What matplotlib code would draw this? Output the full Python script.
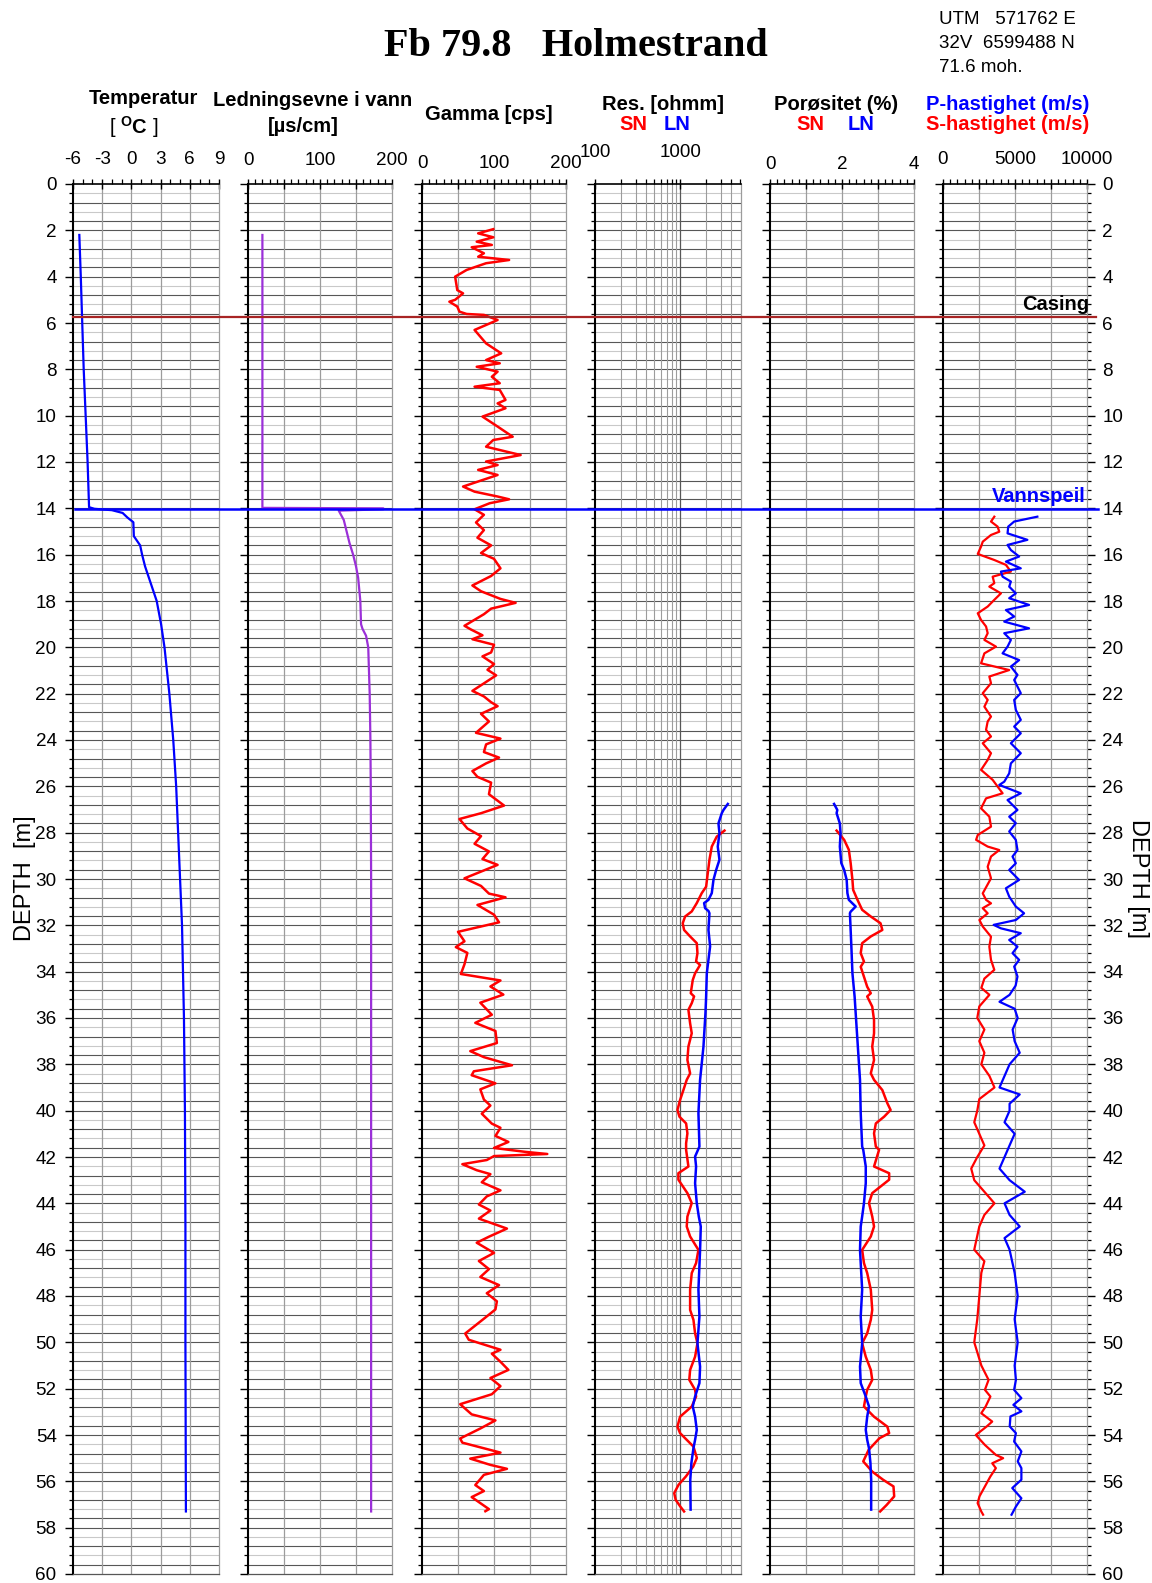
import matplotlib.pyplot as plt
import matplotlib.ticker as ticker
from matplotlib.lines import Line2D
from matplotlib.transforms import blended_transform_factory
import numpy as np

plt.rcParams['font.family'] = ['Liberation Sans', 'DejaVu Sans']
plt.rcParams['mathtext.fontset'] = 'custom'
plt.rcParams['mathtext.rm'] = 'Liberation Sans'
plt.rcParams['mathtext.bf'] = 'Liberation Sans:bold'

# page size and vertical extent of the depth axis, in pixels
W, H = 1152, 1583
Y_TOP, Y_BOT = 184, 1574
DEPTH_MAX = 60

CASING_DEPTH = 5.73
WATER_DEPTH = 14.05

BLUE = '#0000ff'
RED = '#ff0000'
PURPLE = '#9b30d8'
CASING_COLOR = '#a82424'

TICK_SIZE = 13.6
HEAD_SIZE = 14.5

# ---- temperature [C]
temp_depth = [2.2, 4, 6, 8, 10, 12, 13.95, 14.02, 14.08, 14.2, 14.4, 14.6, 15.2, 15.6, 16.0,
              16.5, 17.0, 17.5, 18.0, 19.0, 20.0, 22.0, 24.0, 26.0, 28.0, 30.0, 32.0, 36.0,
              40.0, 45.0, 50.0, 57.3]
temp = [-5.35, -5.2, -5.05, -4.9, -4.7, -4.5, -4.35, -3.8, -2.0, -0.9, -0.4, 0.2, 0.25, 0.9,
        1.1, 1.4, 1.8, 2.2, 2.6, 3.05, 3.4, 3.9, 4.3, 4.6, 4.8, 5.0, 5.2, 5.4, 5.5, 5.55,
        5.55, 5.6]

# ---- conductivity in water [uS/cm]
cond_depth = [2.2, 13.98, 14.0, 14.04, 14.1, 14.5, 15.0, 15.5, 16.0, 16.5, 17.0, 18.0, 19.0,
              19.2, 19.5, 20.0, 21.0, 22.0, 24.0, 26.0, 30.0, 40.0, 57.3]
cond = [20, 20, 188, 188, 126, 133, 137, 141, 146, 150, 153, 156, 157, 159, 164, 167, 168,
        169, 170, 170.5, 171, 171, 171]

# ---- gamma [cps]
gamma_depth = [1.95, 2.13, 2.30, 2.49, 2.63, 2.73, 2.99, 3.14, 3.28, 3.42, 3.71, 4.00, 4.58,
               4.72, 5.00, 5.08, 5.29, 5.51, 5.61, 5.65, 5.87, 6.30, 6.88, 7.31, 7.60, 7.74,
               7.89, 8.10, 8.32, 8.60, 8.75, 8.89, 9.32, 9.47, 9.68, 10.04, 10.47, 10.91,
               11.05, 11.34, 11.70, 11.98, 12.13, 12.34, 12.56, 13.06, 13.28, 13.49, 13.61,
               13.78, 14.04, 14.28, 14.61, 14.94, 15.27, 15.60, 15.93, 16.18, 16.59, 16.92,
               17.33, 17.58, 17.91, 18.08, 18.33, 18.57, 19.07, 19.23, 19.48, 19.65, 19.89,
               20.22, 20.39, 20.72, 20.97, 21.21, 21.88, 22.12, 22.37, 22.54, 22.87, 23.20,
               23.69, 23.94, 24.19, 24.52, 24.76, 25.01, 25.34, 25.59, 25.84, 26.34, 26.83,
               27.16, 27.41, 27.82, 28.15, 28.48, 28.81, 29.14, 29.39, 29.97, 30.30, 30.63,
               30.79, 31.12, 31.54, 31.87, 32.28, 32.69, 32.94, 33.19, 33.68, 34.10, 34.38,
               34.64, 34.99, 35.34, 35.86, 36.21, 36.56, 37.08, 37.43, 37.69, 38.04, 38.30,
               38.47, 38.82, 39.08, 39.52, 39.78, 40.13, 40.56, 40.74, 41.09, 41.35, 41.61,
               41.78, 41.87, 41.96, 42.13, 42.31, 42.57, 42.74, 43.09, 43.44, 43.70, 44.05,
               44.31, 44.66, 45.09, 45.44, 45.70, 46.14, 46.49, 46.84, 47.18, 47.53, 47.88,
               48.23, 48.58, 48.93, 49.62, 49.89, 50.32, 50.49, 50.84, 51.19, 51.54, 51.89,
               52.24, 52.67, 53.11, 53.37, 53.72, 54.15, 54.33, 54.76, 55.02, 55.29, 55.46,
               55.72, 56.16, 56.42, 56.68, 56.94, 57.20, 57.29]
gamma = [99, 78, 99, 76, 97, 69, 86, 78, 121, 89, 62, 46, 49, 57, 46, 38, 49, 52, 62, 86, 105,
         73, 89, 110, 89, 108, 76, 105, 97, 108, 73, 108, 116, 105, 116, 84, 105, 126, 99, 89,
         137, 89, 105, 78, 105, 57, 73, 105, 121, 94, 73, 86, 75, 86, 77, 96, 82, 100, 109, 96,
         70, 82, 109, 130, 96, 86, 59, 68, 84, 70, 100, 96, 84, 100, 91, 103, 70, 86, 96, 105,
         82, 93, 75, 109, 89, 86, 107, 89, 70, 77, 96, 93, 114, 82, 52, 63, 82, 73, 93, 84, 105,
         59, 82, 93, 116, 77, 100, 107, 50, 59, 47, 63, 59, 54, 109, 95, 113, 81, 97, 74, 102,
         104, 67, 86, 125, 72, 69, 102, 81, 86, 95, 83, 97, 109, 102, 120, 100, 144, 174, 100,
         90, 56, 76, 95, 83, 109, 90, 79, 95, 79, 118, 93, 76, 100, 79, 93, 81, 107, 90, 104,
         102, 88, 60, 65, 109, 97, 109, 120, 95, 109, 97, 53, 69, 102, 81, 53, 56, 109, 67,
         95, 118, 86, 74, 86, 69, 81, 93, 88]

# ---- resistivity [ohmm], short normal (SN) and long normal (LN)
res_ln_depth = [26.76, 27.02, 27.16, 27.60, 28.02, 28.60, 29.17, 29.61, 30.04, 30.61, 30.90,
                31.04, 31.26, 31.38, 31.48, 32.20, 32.91, 34.07, 35.07, 35.79, 37.23, 38.67,
                40.11, 41.55, 41.98, 42.41, 43.13, 43.99, 44.57, 45.00, 46.01, 47.73, 48.89,
                50.04, 51.05, 51.76, 52.34, 52.77, 53.21, 53.78, 54.21, 54.57, 55.21, 55.93,
                57.22]
res_ln = [3640, 3236, 3090, 2825, 2902, 2773, 2902, 2654, 2468, 2358, 2155, 1916, 1969, 2155,
          2214, 2155, 2254, 2061, 2024, 1987, 1883, 1718, 1643, 1688, 1501, 1542, 1501, 1571,
          1659, 1751, 1718, 1643, 1688, 1600, 1718, 1688, 1501, 1409, 1501, 1571, 1501, 1436,
          1358, 1318, 1330]
res_sn_depth = [27.91, 28.17, 28.60, 29.17, 29.75, 30.33, 30.61, 31.04, 31.40, 31.62, 31.91,
                32.20, 32.48, 32.77, 33.20, 33.56, 33.71, 34.07, 34.36, 34.93, 35.07, 35.36,
                35.65, 36.23, 36.66, 37.23, 37.81, 38.39, 38.67, 39.11, 39.54, 39.97, 40.26,
                40.55, 40.98, 41.41, 41.69, 42.41, 42.70, 42.98, 43.56, 43.99, 44.57, 45.00,
                45.43, 46.01, 46.58, 47.01, 47.73, 48.60, 49.03, 49.61, 50.04, 50.62, 51.19,
                51.62, 52.05, 52.34, 52.77, 53.21, 53.64, 53.92, 54.50, 54.99, 55.36, 55.79,
                56.15, 56.51, 56.80, 57.09, 57.30]
res_sn = [3327, 2698, 2358, 2214, 2115, 2024, 1798, 1571, 1371, 1145, 1074, 1114, 1312, 1571,
          1600, 1542, 1718, 1501, 1409, 1335, 1461, 1371, 1253, 1312, 1371, 1253, 1219, 1312,
          1197, 1094, 1000, 931, 983, 1177, 1219, 1177, 1177, 1253, 955, 955, 1219, 1371, 1219,
          1197, 1312, 1643, 1542, 1371, 1312, 1312, 1436, 1501, 1600, 1501, 1312, 1283, 1501,
          1542, 1371, 1000, 931, 1000, 1436, 1574, 1426, 1170, 959, 853, 888, 1007, 1114]

# ---- porosity [%]
por_ln_depth = [26.76, 27.02, 27.16, 27.60, 28.02, 28.60, 29.31, 29.61, 30.04, 30.61, 30.90,
                31.19, 31.41, 31.48, 32.20, 32.91, 34.07, 35.07, 35.79, 37.23, 38.67, 40.11,
                41.55, 41.69, 42.41, 43.13, 43.99, 44.57, 45.00, 46.01, 47.73, 48.89, 50.04,
                51.05, 51.76, 52.34, 52.77, 53.21, 53.78, 54.21, 54.57, 55.21, 55.93, 57.22]
por_ln = [1.78, 1.87, 1.85, 1.94, 1.96, 1.94, 1.98, 2.06, 2.13, 2.15, 2.19, 2.38, 2.24, 2.22,
          2.24, 2.26, 2.29, 2.35, 2.38, 2.44, 2.50, 2.52, 2.56, 2.59, 2.66, 2.66, 2.61, 2.56,
          2.52, 2.50, 2.56, 2.52, 2.56, 2.50, 2.52, 2.66, 2.75, 2.70, 2.66, 2.70, 2.75, 2.79,
          2.81, 2.81]
por_sn_depth = [27.91, 28.31, 28.74, 29.31, 30.04, 30.47, 30.90, 31.33, 31.62, 31.91, 32.20,
                32.48, 32.77, 33.20, 33.56, 33.79, 34.22, 34.65, 34.93, 35.07, 35.51, 36.09,
                36.66, 37.23, 37.81, 38.39, 38.67, 39.11, 39.68, 39.97, 40.26, 40.55, 40.98,
                41.55, 41.69, 42.41, 42.70, 42.98, 43.56, 43.99, 44.57, 45.00, 45.43, 46.01,
                46.58, 47.01, 47.73, 48.60, 49.03, 49.61, 50.04, 50.62, 51.19, 51.62, 52.05,
                52.34, 52.77, 53.21, 53.64, 53.92, 54.14, 54.64, 55.14, 55.58, 55.93, 56.22,
                56.65, 57.02, 57.30]
por_sn = [1.85, 2.06, 2.19, 2.24, 2.29, 2.31, 2.43, 2.56, 2.80, 3.07, 3.12, 2.80, 2.56, 2.52,
          2.61, 2.52, 2.61, 2.70, 2.80, 2.70, 2.84, 2.89, 2.89, 2.84, 2.89, 2.80, 2.89, 3.12,
          3.26, 3.35, 3.17, 2.94, 2.89, 2.94, 3.03, 2.89, 3.31, 3.31, 2.84, 2.75, 2.84, 2.89,
          2.80, 2.56, 2.61, 2.70, 2.80, 2.84, 2.80, 2.70, 2.56, 2.66, 2.80, 2.84, 2.70, 2.66,
          2.61, 2.89, 3.26, 3.31, 3.04, 2.74, 2.59, 2.84, 3.14, 3.43, 3.45, 3.24, 3.06]

# ---- sonic velocities [m/s]
vp_depth = [14.36, 14.57, 14.79, 15.08, 15.36, 15.58, 15.80, 16.08, 16.30, 16.59, 16.73, 16.95,
            17.16, 17.38, 17.67, 17.88, 18.17, 18.39, 18.67, 18.89, 19.18, 19.39, 19.68, 19.97,
            20.26, 20.55, 20.83, 21.19, 21.41, 21.98, 22.27, 22.70, 23.13, 23.42, 23.71, 24.14,
            24.57, 25.01, 25.44, 25.80, 25.94, 26.30, 26.59, 27.02, 27.31, 27.59, 27.95, 28.31,
            28.75, 29.03, 29.32, 29.61, 30.04, 30.40, 30.76, 31.19, 31.48, 31.77, 31.98, 32.13,
            32.34, 32.63, 32.92, 33.20, 33.49, 33.78, 34.21, 34.6, 35.0, 35.3, 35.6, 36.0, 36.5,
            37.0, 37.5, 38.0, 38.5, 39.0, 39.3, 39.7, 40.0, 40.5, 41.0, 41.5, 42.0, 42.5, 43.0,
            43.5, 44.0, 44.5, 45.0, 45.5, 46.0, 47.0, 48.0, 49.0, 50.0, 51.0, 51.62, 52.05,
            52.41, 52.70, 52.98, 53.20, 53.63, 53.92, 54.28, 54.71, 55.14, 55.43, 55.93, 56.29,
            56.73, 57.09, 57.44]
vp = [6552, 4943, 4529, 4483, 5862, 4483, 4713, 5287, 4368, 5402, 4023, 4138, 4713, 4598, 5057,
      4598, 5977, 4368, 4943, 4253, 5977, 4253, 4713, 4483, 4138, 5287, 4713, 5172, 4943, 5402,
      4943, 5057, 5402, 4943, 5402, 4713, 5402, 4713, 4598, 4253, 3908, 5402, 4483, 5172, 4598,
      5057, 4598, 5057, 5172, 4828, 5057, 4598, 5287, 4368, 4598, 5057, 5632, 5057, 3517, 4023,
      5402, 4598, 5172, 4828, 5287, 4943, 5172, 5045, 4623, 3924, 4975, 5187, 4835, 4975, 5327,
      4623, 4274, 3924, 5327, 4623, 4623, 4274, 4975, 4623, 4274, 3924, 4623, 5676, 4274, 4623,
      5327, 4274, 4623, 4975, 5187, 4975, 5187, 4975, 5063, 4937, 5443, 4886, 5443, 4684, 4633,
      5063, 4937, 5443, 5190, 5443, 5443, 4810, 5443, 5063, 4759]
vs_depth = [14.36, 14.57, 14.79, 15.01, 15.15, 15.44, 15.65, 15.97, 16.23, 16.44, 16.73, 16.95,
            17.23, 17.38, 17.67, 17.95, 18.24, 18.53, 18.82, 19.10, 19.39, 19.68, 19.97, 20.26,
            20.69, 20.98, 21.26, 21.55, 21.98, 22.27, 22.56, 22.99, 23.20, 23.56, 23.85, 24.14,
            24.57, 24.86, 25.29, 25.72, 26.30, 26.52, 26.95, 27.31, 27.74, 28.10, 28.31, 28.60,
            28.75, 29.03, 29.47, 29.97, 30.62, 30.90, 31.05, 31.26, 31.48, 31.77, 32.05, 32.49,
            32.92, 33.49, 33.92, 34.3, 34.7, 35.0, 35.5, 36.0, 36.5, 37.0, 37.5, 38.0, 38.5,
            39.0, 39.5, 40.0, 40.5, 41.0, 41.5, 42.0, 42.5, 43.0, 43.5, 44.0, 44.5, 45.0, 46.0,
            46.5, 47.0, 48.0, 49.0, 50.0, 51.0, 51.62, 52.05, 52.34, 52.77, 53.06, 53.42, 53.63,
            54.00, 54.43, 54.86, 55.00, 55.22, 55.43, 55.79, 56.22, 56.65, 56.94, 57.30, 57.44]
vs = [3563, 3333, 3793, 3908, 3333, 2759, 2644, 2414, 3563, 4368, 4713, 3448, 3563, 3218, 4023,
      3563, 3103, 2414, 2644, 2989, 3103, 2874, 3678, 2874, 2644, 4598, 3218, 3333, 2759, 3103,
      2874, 3333, 3103, 2989, 3333, 2759, 3333, 3103, 2644, 3448, 4138, 2989, 2644, 3218, 3333,
      2414, 2299, 3103, 3908, 3333, 3103, 3333, 2759, 2989, 3333, 2759, 3103, 2529, 2759, 3333,
      3218, 3333, 3563, 2873, 2662, 3222, 2521, 2381, 2873, 2521, 2873, 2662, 3222, 3573, 2521,
      2381, 2171, 2521, 2873, 2381, 1960, 2171, 2873, 3573, 2873, 2521, 2171, 2873, 2662, 2521,
      2381, 2171, 2662, 3165, 2911, 3291, 2962, 2658, 3418, 3038, 2278, 2911, 3671, 4177, 3418,
      3671, 3291, 2911, 2532, 2405, 2658, 2785]

# panel edges (pixels)
PANELS = {
    'temp': (73, 219),
    'cond': (248, 392),
    'gamma': (422, 566),
    'res': (595, 741),
    'por': (770, 914),
    'vel': (943, 1087),
}

GRID_DARK = '#575757'
GRID_LIGHT = '#c9c9c9'
GRID_V = '#9c9c9c'


def fx(x):
    return x / W


def fy(y):
    return 1 - y / H


def label_every(step):
    def fmt(v, pos):
        if abs(v / step - round(v / step)) < 1e-6:
            return f'{v:g}'
        return ''
    return ticker.FuncFormatter(fmt)


def make_panel(fig, name):
    x0, x1 = PANELS[name]
    ax = fig.add_axes([fx(x0), fy(Y_BOT), (x1 - x0) / W, (Y_BOT - Y_TOP) / H])
    ax.set_ylim(DEPTH_MAX, 0)

    # depth grid: every 0.4 m, alternating shade inside each 2 m block
    for i, d in enumerate(np.arange(0.4, DEPTH_MAX, 0.4)):
        k = (i + 1) % 5
        shade = GRID_DARK if k in (0, 2, 4) else GRID_LIGHT
        ax.axhline(d, color=shade, lw=0.8, zorder=0.5)

    ax.yaxis.set_major_locator(ticker.MultipleLocator(2))
    ax.yaxis.set_minor_locator(ticker.MultipleLocator(0.4))
    ax.tick_params(axis='y', which='major', direction='out', length=5.8, width=1.0,
                   labelsize=TICK_SIZE, pad=6.0)
    ax.tick_params(axis='y', which='minor', direction='out', length=3.2, width=0.9)
    ax.yaxis.set_major_formatter(ticker.FuncFormatter(lambda v, p: f'{v:g}'))
    ax.tick_params(axis='y', labelleft=False)

    ax.xaxis.tick_top()
    ax.tick_params(axis='x', which='major', direction='inout', length=7.2, width=1.0,
                   labelsize=TICK_SIZE)
    ax.tick_params(axis='x', which='minor', direction='out', length=3.4, width=0.9)

    ax.spines['left'].set_linewidth(1.5)
    ax.spines['top'].set_linewidth(1.2)
    ax.spines['right'].set_color(GRID_V)
    ax.spines['right'].set_linewidth(0.9)
    ax.spines['bottom'].set_color(GRID_DARK)
    ax.spines['bottom'].set_linewidth(0.9)
    return ax


def linear_x(ax, lo, hi, major, minor, label_step, pad):
    ax.set_xlim(lo, hi)
    ax.xaxis.set_major_locator(ticker.MultipleLocator(major))
    ax.xaxis.set_minor_locator(ticker.MultipleLocator(minor))
    ax.xaxis.set_major_formatter(label_every(label_step))
    ax.tick_params(axis='x', which='major', pad=pad)
    for v in np.arange(lo + major, hi - major / 2, major):
        ax.axvline(v, color=GRID_V, lw=0.9, zorder=0.6)


fig = plt.figure(figsize=(W / 100, H / 100), dpi=100)

ax_t = make_panel(fig, 'temp')
linear_x(ax_t, -6, 9, 3, 1, 3, 7.6)
ax_t.tick_params(axis='y', labelleft=True)
ax_t.plot(temp, temp_depth, color=BLUE, lw=1.6)

ax_c = make_panel(fig, 'cond')
linear_x(ax_c, 0, 200, 50, 10, 100, 7.3)
ax_c.plot(cond, cond_depth, color=PURPLE, lw=1.6)

ax_g = make_panel(fig, 'gamma')
linear_x(ax_g, 0, 200, 50, 10, 100, 5.2)
ax_g.plot(gamma, gamma_depth, color=RED, lw=1.8)

ax_r = make_panel(fig, 'res')
ax_r.set_xscale('log')
ax_r.set_xlim(100, 5200)
ax_r.xaxis.set_major_locator(ticker.FixedLocator([100, 1000]))
ax_r.xaxis.set_minor_locator(ticker.FixedLocator(
    [200, 300, 400, 500, 600, 700, 800, 900, 2000, 3000, 4000, 5000]))
ax_r.xaxis.set_major_formatter(ticker.FuncFormatter(lambda v, p: f'{v:g}'))
ax_r.xaxis.set_minor_formatter(ticker.NullFormatter())
ax_r.tick_params(axis='x', which='major', pad=13.2)
for v in [200, 300, 400, 500, 600, 700, 800, 900, 2000, 3000, 4000]:
    ax_r.axvline(v, color=GRID_V, lw=0.8, zorder=0.6)
ax_r.axvline(1000, color=GRID_DARK, lw=0.9, zorder=0.6)
ax_r.plot(res_sn, res_sn_depth, color=RED, lw=1.8)
ax_r.plot(res_ln, res_ln_depth, color=BLUE, lw=1.8)

ax_p = make_panel(fig, 'por')
linear_x(ax_p, 0, 4, 1, 0.2, 2, 4.2)
ax_p.plot(por_sn, por_sn_depth, color=RED, lw=1.8)
ax_p.plot(por_ln, por_ln_depth, color=BLUE, lw=1.8)

ax_v = make_panel(fig, 'vel')
linear_x(ax_v, 0, 10000, 2500, 500, 5000, 8.0)
ax_v.yaxis.set_ticks_position('both')
ax_v.tick_params(axis='y', which='both', right=True, labelright=True)
ax_v.tick_params(axis='y', which='major', pad=5.2)
ax_v.plot(vs, vs_depth, color=RED, lw=1.6)
ax_v.plot(vp, vp_depth, color=BLUE, lw=1.6)

# casing and water level markers across all tracks
span = blended_transform_factory(fig.transFigure, ax_t.transData)
fig.add_artist(Line2D([fx(73), fx(1096)], [CASING_DEPTH, CASING_DEPTH], transform=span,
                      color=CASING_COLOR, lw=1.6, zorder=5))
fig.add_artist(Line2D([fx(75), fx(1098)], [WATER_DEPTH, WATER_DEPTH], transform=span,
                      color=BLUE, lw=1.8, zorder=5))
fig.text(fx(1089), fy(304), 'Casing', ha='right', va='center', fontsize=HEAD_SIZE,
         weight='bold')
fig.text(fx(1086), fy(496), 'Vannspeil', ha='right', va='center', fontsize=HEAD_SIZE,
         weight='bold', color=BLUE)

# headings
fig.text(fx(576), fy(46), 'Fb 79.8   Holmestrand', ha='center', va='center',
         family='Liberation Serif', weight='bold', fontsize=29)
for i, line in enumerate(['UTM   571762 E', '32V  6599488 N', '71.6 moh.']):
    fig.text(fx(939), fy(19 + 24 * i), line, ha='left', va='center', fontsize=13.5)

hdr = dict(ha='center', va='center', fontsize=HEAD_SIZE, weight='bold')
fig.text(fx(143), fy(98), 'Temperatur', **hdr)
fig.text(fx(134), fy(127), r'[ $\mathbf{^{O}C}$ ]', ha='center', va='center',
         fontsize=HEAD_SIZE)
fig.text(fx(313), fy(101), 'Ledningsevne i vann', **hdr)
fig.text(fx(303), fy(127), '[\u00b5s/cm]', **hdr)
fig.text(fx(489), fy(114), 'Gamma [cps]', **hdr)
fig.text(fx(663), fy(104), 'Res. [ohmm]', **hdr)
fig.text(fx(633), fy(124), 'SN', color=RED, **hdr)
fig.text(fx(677), fy(124), 'LN', color=BLUE, **hdr)
fig.text(fx(836), fy(104), 'Porøsitet (%)', **hdr)
fig.text(fx(810), fy(124), 'SN', color=RED, **hdr)
fig.text(fx(861), fy(124), 'LN', color=BLUE, **hdr)
fig.text(fx(1008), fy(104), 'P-hastighet (m/s)', color=BLUE, **hdr)
fig.text(fx(1008), fy(124), 'S-hastighet (m/s)', color=RED, **hdr)

fig.text(fx(25), fy(878), 'DEPTH  [m]', rotation=90, ha='center', va='center', fontsize=17)
fig.text(fx(1138), fy(878), 'DEPTH [m]', rotation=270, ha='center', va='center', fontsize=17)

fig.savefig('out.png', dpi=100)
